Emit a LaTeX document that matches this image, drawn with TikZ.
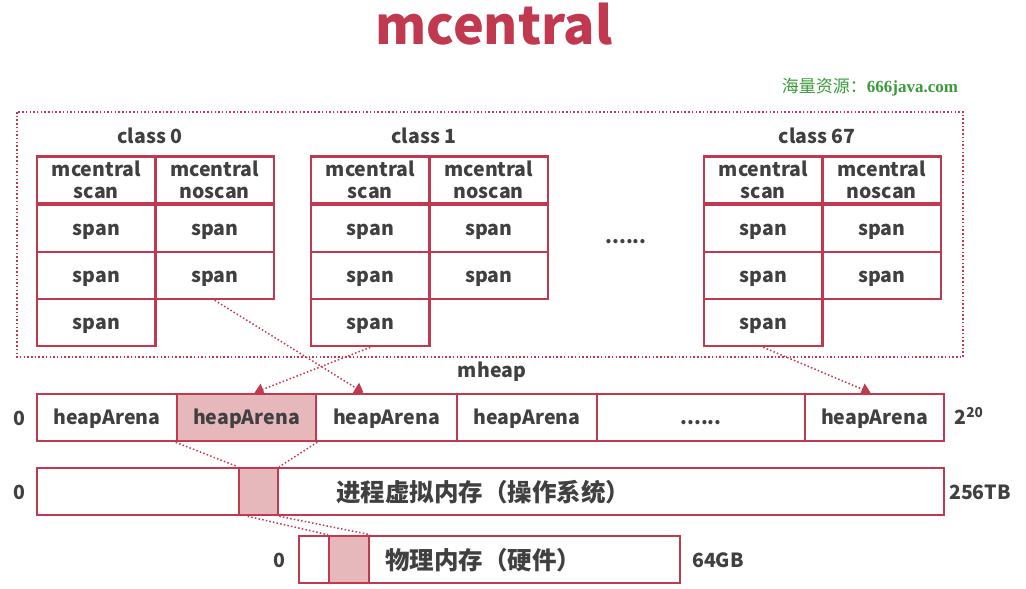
\documentclass[tikz,border=0pt]{standalone}
\usepackage{fontspec}
\setmainfont{Noto Sans CJK SC}
\newfontfamily\wmlat{Liberation Serif}
\usetikzlibrary{arrows.meta}
\definecolor{crim}{HTML}{C0394F}
\definecolor{pinkf}{HTML}{E6B8BC}
\definecolor{txt}{HTML}{404040}
\definecolor{wmg}{HTML}{3A9A3A}
\tikzset{
  cell/.style={draw=crim, line width=2.6pt, inner sep=0pt, text=txt, font=\bfseries\fontsize{19.5}{22.5}\selectfont, align=center, minimum height=47pt},
  one/.style={text height=17pt, text depth=4pt},
  lbl/.style={text=txt, font=\bfseries\fontsize{19.5}{22}\selectfont, inner sep=0pt},
  dotl/.style={crim, line width=1.5pt, dash pattern=on 1.5pt off 2.2pt},
  dotarrow/.style={dotl, -{Triangle[width=12pt,length=9pt]}},
}
\begin{document}
\begin{tikzpicture}[x=1pt,y=-1pt]
\useasboundingbox (0,0) rectangle (1026,589);
% title
\node[text=crim, font=\bfseries\fontsize{52}{52}\selectfont, inner sep=0pt] (title) at (494,24) {mcentral};
\node[text=wmg, font=\fontsize{17}{17}\selectfont, inner sep=0pt] (wm) at (870,87) {海量资源：{\wmlat\bfseries 666java.com}};
% outer frame
\draw[dotl] (17,112) rectangle (963,357);
% classes
\foreach \xo/\nm/\lab in {37/a/class 0, 311/b/class 1, 704/c/class 67}{
  \node[lbl] (\nm lab) at (\xo+113,136) {\lab};
  \node[cell, minimum width=118.5pt] (\nm l0) at (\xo+59.25,180) {mcentral\\scan};
  \node[cell, minimum width=118.5pt] (\nm r0) at (\xo+177.75,180) {mcentral\\noscan};
  \node[cell, one, minimum width=118.5pt] (\nm l1) at (\xo+59.25,228.5) {span};
  \node[cell, one, minimum width=118.5pt] (\nm r1) at (\xo+177.75,228.5) {span};
  \node[cell, one, minimum width=118.5pt] (\nm l2) at (\xo+59.25,275.5) {span};
  \node[cell, one, minimum width=118.5pt] (\nm r2) at (\xo+177.75,275.5) {span};
  \node[cell, one, minimum width=118.5pt] (\nm l3) at (\xo+59.25,322.5) {span};
}
\node[lbl] (dots1) at (626,242) {......};
% mheap
\node[lbl] (mheap) at (492,372) {mheap};
\node[cell, one, minimum width=140pt] (h1) at (107,417.5) {heapArena};
\node[cell, one, minimum width=139pt, fill=pinkf] (h2) at (246.5,417.5) {heapArena};
\node[cell, one, minimum width=141pt] (h3) at (386.5,417.5) {heapArena};
\node[cell, one, minimum width=140pt] (h4) at (527,417.5) {heapArena};
\node[cell, one, minimum width=208pt] (h5) at (701,417.5) {......};
\node[cell, one, minimum width=139pt] (h6) at (874.5,417.5) {heapArena};
\node[lbl] (z1) at (19,418) {0};
\node[lbl] (top1) at (969,416) {2$^{\mathbf{20}}$};
% arrows
\draw[dotarrow] (ar2.south) -- ([xshift=-23pt]h3.north);
\draw[dotarrow] (bl3.south) -- ([xshift=8pt]h2.north);
\draw[dotarrow] (cl3.south) -- ([xshift=-4pt]h6.north);
% virtual memory
\node[cell, minimum width=907pt] (vm) at (490.5,491.5) {};
\node[cell, minimum width=39pt, fill=pinkf] (vmp) at (258.5,491.5) {};
\node[lbl, font=\bfseries\fontsize{24.5}{24.5}\selectfont] (vmt) at (483,492) {进程虚拟内存（操作系统）};
\node[lbl] (z2) at (19,492) {0};
\node[lbl] (top2) at (980,492) {256TB};
\draw[dotl] (h2.south west) -- (vmp.north west);
\draw[dotl] (h2.south east) -- (vmp.north east);
% physical memory
\node[cell, minimum width=381pt] (pm) at (489.5,559.5) {};
\node[cell, minimum width=40pt, fill=pinkf] (pmp) at (349,559.5) {};
\node[lbl, font=\bfseries\fontsize{24.5}{24.5}\selectfont] (pmt) at (483,560) {物理内存（硬件）};
\node[lbl] (z3) at (279,560) {0};
\node[lbl] (top3) at (718,560) {64GB};
\draw[dotl] ([xshift=10pt]vmp.south west) -- (pmp.north west);
\draw[dotl] (vmp.south east) -- (pmp.north east);
\end{tikzpicture}
\end{document}
